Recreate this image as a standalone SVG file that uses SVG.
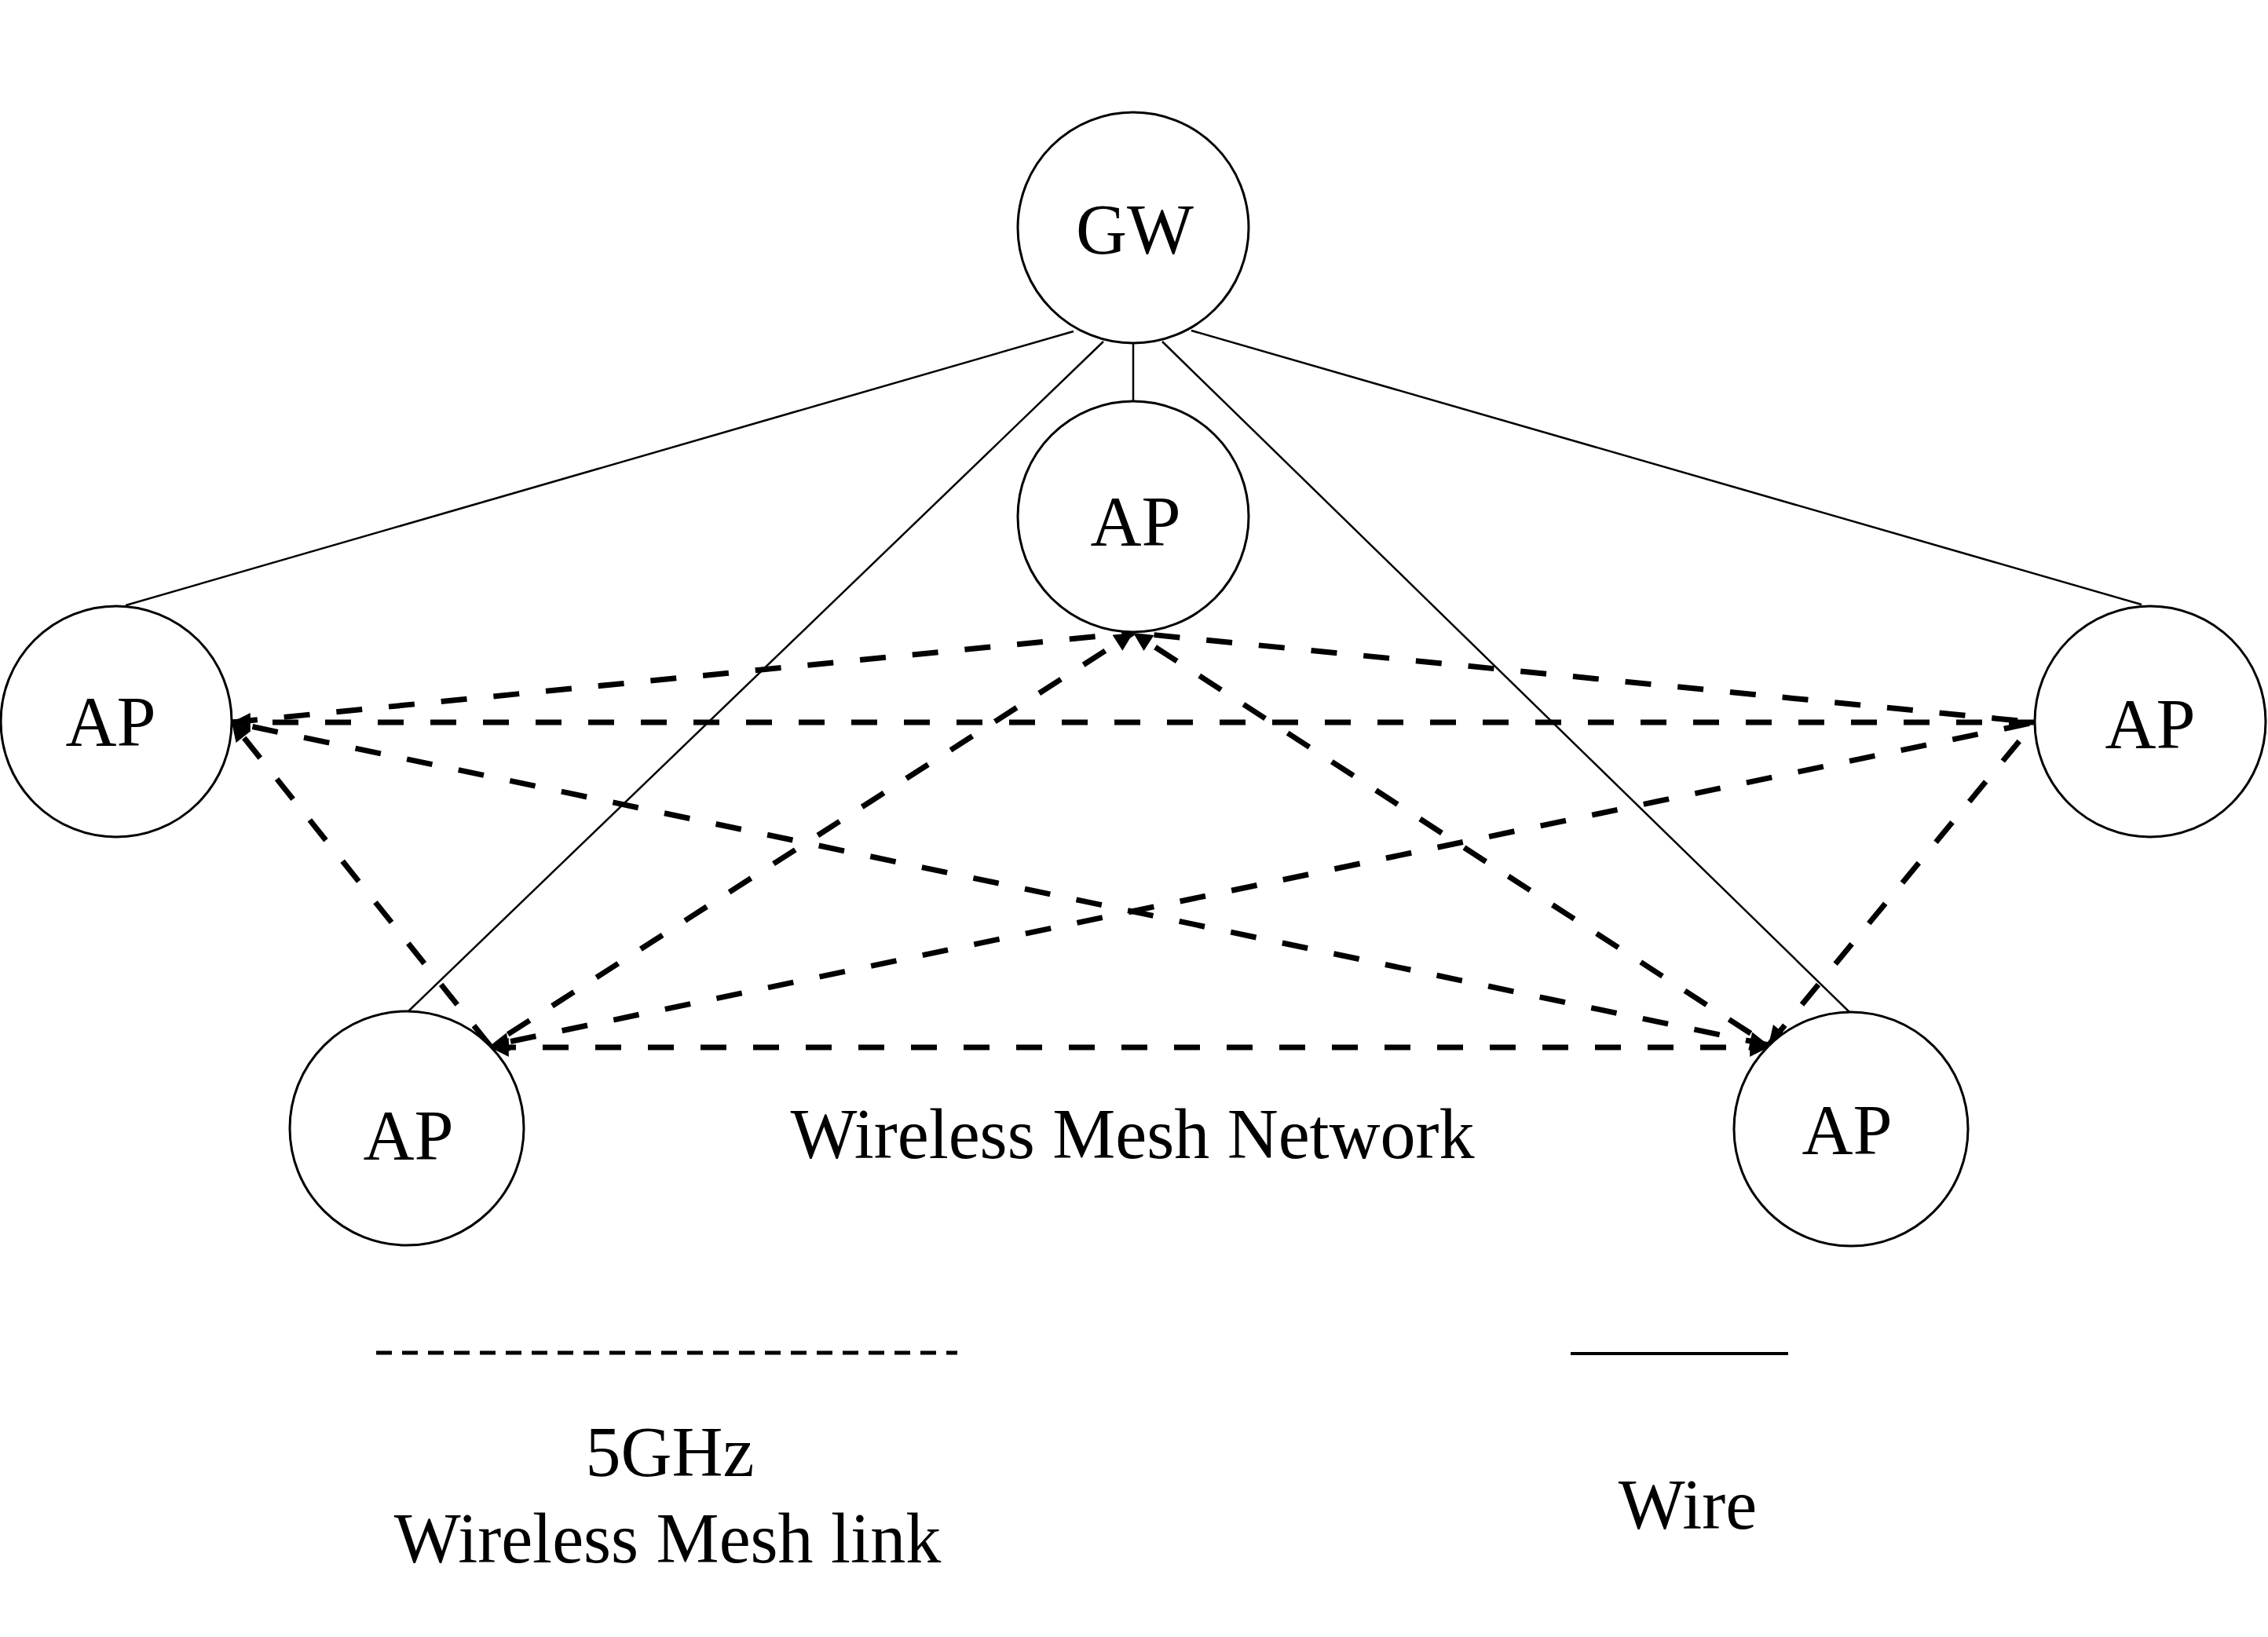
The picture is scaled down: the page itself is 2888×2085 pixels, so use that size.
<svg xmlns="http://www.w3.org/2000/svg" width="2888" height="2085" viewBox="0 0 2888 2085">
<style>
.node{fill:#fff;stroke:#000;stroke-width:3}
.lbl{font-family:"Liberation Serif","Times New Roman",serif;font-size:90px;fill:#000;text-anchor:middle}
.wire{stroke:#000;stroke-width:2.5;fill:none}
.mesh{stroke:#000;stroke-width:7;stroke-dasharray:33 34;fill:none}
</style>
<defs>
<marker id="arr" viewBox="0 0 10 10" refX="10" refY="5" markerWidth="4" markerHeight="3.4" markerUnits="strokeWidth" orient="auto">
<path d="M0,0 L10,5 L0,10 z" fill="#000"/>
</marker>
<marker id="arrs" viewBox="0 0 10 10" refX="10" refY="5" markerWidth="4" markerHeight="3.4" markerUnits="strokeWidth" orient="auto-start-reverse">
<path d="M0,0 L10,5 L0,10 z" fill="#000"/>
</marker>
</defs>
<rect width="2888" height="2085" fill="#fff"/>
<g id="connectors">
<line class="wire" x1="1367" y1="422" x2="160" y2="771"/>
<line class="wire" x1="1517" y1="421" x2="2727" y2="770"/>
<line class="wire" x1="1405" y1="435" x2="520" y2="1288"/>
<line class="wire" x1="1480" y1="435" x2="2355" y2="1289"/>
<line class="wire" x1="1443" y1="437" x2="1443" y2="512"/>
<line class="mesh" x1="2591" y1="920" x2="295" y2="920" marker-end="url(#arr)"/>
<line class="mesh" x1="295" y1="920" x2="1443" y2="806"/>
<line class="mesh" x1="2591" y1="920" x2="1443" y2="806" style="stroke-dashoffset:45"/>
<line class="mesh" x1="295" y1="920" x2="2252" y2="1331" marker-end="url(#arr)" style="stroke-dashoffset:40"/>
<line class="mesh" x1="2591" y1="920" x2="624" y2="1332" marker-end="url(#arr)" style="stroke-dashoffset:60"/>
<line class="mesh" x1="624" y1="1332" x2="295" y2="920" marker-end="url(#arr)"/>
<line class="mesh" x1="2591" y1="920" x2="2252" y2="1331" marker-end="url(#arr)" style="stroke-dashoffset:36"/>
<line class="mesh" x1="624" y1="1332" x2="1443" y2="806" marker-end="url(#arr)" style="stroke-dashoffset:40"/>
<line class="mesh" x1="2252" y1="1331" x2="1443" y2="806" marker-end="url(#arr)" style="stroke-dashoffset:40"/>
<line class="mesh" x1="624" y1="1334" x2="2252" y2="1334" marker-start="url(#arrs)" marker-end="url(#arr)"/>
</g>
<g id="gw"><circle class="node" cx="1443" cy="290" r="147"/><text class="lbl" x="1445" y="323">GW</text></g>
<g id="ap-mid"><circle class="node" cx="1443" cy="658" r="147"/><text class="lbl" x="1446" y="695">AP</text></g>
<g id="ap-left"><circle class="node" cx="148" cy="919" r="147"/><text class="lbl" x="141" y="950">AP</text></g>
<g id="ap-right"><circle class="node" cx="2738" cy="919" r="147"/><text class="lbl" x="2738" y="953">AP</text></g>
<g id="ap-bl"><circle class="node" cx="518" cy="1437" r="149"/><text class="lbl" x="520" y="1477">AP</text></g>
<g id="ap-br"><circle class="node" cx="2357" cy="1438" r="149"/><text class="lbl" x="2352" y="1470">AP</text></g>
<text class="lbl" x="1442" y="1475">Wireless Mesh Network</text>
<g id="legend">
<line x1="479" y1="1723" x2="1219" y2="1723" stroke="#000" stroke-width="5" stroke-dasharray="20 13"/>
<text class="lbl" x="853" y="1880">5GHz</text>
<text class="lbl" x="850" y="1990">Wireless Mesh link</text>
<line x1="2000" y1="1724" x2="2277" y2="1724" stroke="#000" stroke-width="4"/>
<text class="lbl" x="2149" y="1947">Wire</text>
</g>
</svg>
